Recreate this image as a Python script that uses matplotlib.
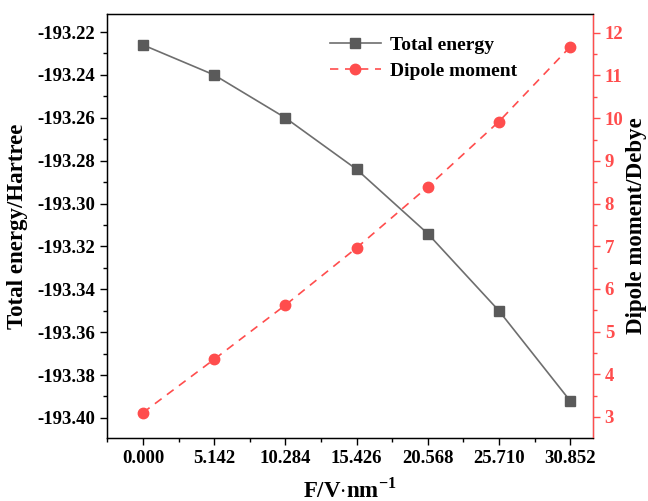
import matplotlib
matplotlib.use("Agg")
import matplotlib.pyplot as plt
from matplotlib.ticker import MultipleLocator, AutoMinorLocator

field = [0.000, 5.142, 10.284, 15.426, 20.568, 25.710, 30.852]
total_energy = [-193.226, -193.240, -193.260, -193.284, -193.314, -193.350, -193.392]
dipole = [3.10, 4.35, 5.62, 6.96, 8.39, 9.92, 11.67]
xtick_labels = ["0.000", "5.142", "10.284", "15.426", "20.568", "25.710", "30.852"]

red = "#ff4d4d"
plt.rcParams["font.family"] = ["Liberation Serif", "DejaVu Serif"]
plt.rcParams["font.weight"] = "bold"
plt.rcParams["mathtext.fontset"] = "custom"
plt.rcParams["mathtext.rm"] = "Liberation Serif:bold"

fig = plt.figure(figsize=(6.48, 5.01), dpi=100)
ax = fig.add_axes([0.165, 0.126, 0.75, 0.846])
ax2 = ax.twinx()

l1, = ax.plot(field, total_energy, color="#6e6e6e", lw=1.2, marker="s",
              ms=7.5, mfc="#5a5a5a", mec="#5a5a5a", label="Total energy")
l2, = ax2.plot(field, dipole, color=red, lw=1.2, ls=(0, (5, 4)), marker="o",
               ms=7.5, mfc=red, mec=red, label="Dipole moment")

ax.set_xlim(-2.6, 32.5)
ax.set_ylim(-193.4093, -193.2116)
ax2.set_ylim(2.51, 12.44)

ax.set_xticks(field)
ax.set_xticklabels(xtick_labels)
ax.xaxis.set_minor_locator(AutoMinorLocator(2))
ax.yaxis.set_major_locator(MultipleLocator(0.02))
ax.yaxis.set_minor_locator(AutoMinorLocator(2))
ax.yaxis.set_major_formatter(matplotlib.ticker.FormatStrFormatter("%.2f"))
ax2.yaxis.set_major_locator(MultipleLocator(1))
ax2.yaxis.set_minor_locator(AutoMinorLocator(2))

ax.tick_params(which="both", direction="out", labelsize=13.5, width=1)
ax.tick_params(which="major", length=5)
ax.tick_params(which="minor", length=3)
ax2.tick_params(which="both", direction="out", labelsize=13.5, colors=red, width=1)
ax2.tick_params(which="major", length=5)
ax2.tick_params(which="minor", length=3)
ax2.spines["right"].set_color(red)
for s in ["left", "top", "bottom"]:
    ax.spines[s].set_linewidth(1)
ax2.spines["right"].set_linewidth(1)

ax.set_xlabel("F/V$\\cdot$nm$^{-1}$", fontsize=16.5, fontweight="bold", labelpad=8)
ax.set_ylabel("Total energy/Hartree", fontsize=16.5, fontweight="bold", labelpad=7)
ax2.set_ylabel("Dipole moment/Debye", fontsize=16.5, fontweight="bold", labelpad=2)

ax2.legend(handles=[l1, l2], loc="upper left", bbox_to_anchor=(0.435, 0.975),
           frameon=False, fontsize=14, handlelength=2.6, borderaxespad=0.2,
           labelspacing=0.45, handletextpad=0.5)

fig.savefig("out.png", dpi=100)
